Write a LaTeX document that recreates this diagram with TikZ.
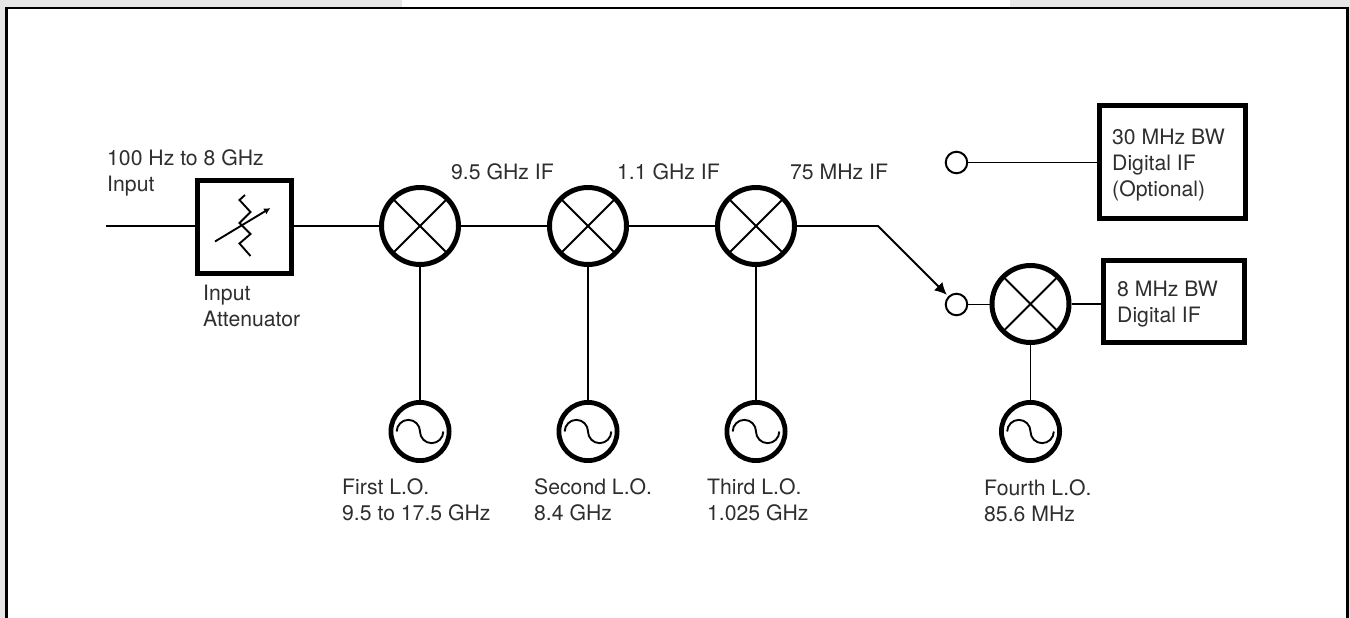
\documentclass[tikz,border=0pt]{standalone}
\usepackage{fontspec}
\setmainfont{TeX Gyre Heros}
\usetikzlibrary{arrows.meta}
\definecolor{pagegray}{HTML}{E6E6E6}
\definecolor{inkgray}{HTML}{2E2E2E}
\tikzset{
  wire/.style={line width=1.9},
  framed/.style={draw=black,line width=2.8},
  lbl/.style={inner sep=0,anchor=base west,align=left,text=inkgray,font=\fontsize{21.2}{26}\selectfont},
  thickbox/.style={draw=black,line width=5,inner sep=0,rectangle},
  mixer/.style={circle,draw=black,line width=5,minimum size=77,inner sep=0,
    path picture={\draw[line width=1.9]
      (path picture bounding box.north west)--(path picture bounding box.south east)
      (path picture bounding box.north east)--(path picture bounding box.south west);}},
  osc/.style={circle,draw=black,line width=4.8,minimum size=58.2,inner sep=0,
    path picture={\draw[line width=1.9,shift={(path picture bounding box.center)}]
      (-23.3,0) .. controls (-23.3,-6.4) and (-18,-11.65) .. (-11.65,-11.65)
      .. controls (-5.2,-11.65) and (0,-6.4) .. (0,0)
      .. controls (0,6.4) and (5.2,11.65) .. (11.65,11.65)
      .. controls (18,11.65) and (23.3,6.4) .. (23.3,0);}},
  tap/.style={circle,draw=black,line width=2,minimum size=21.5,inner sep=0,fill=white},
}
\begin{document}
\begin{tikzpicture}[x=1pt,y=-1pt]
\useasboundingbox (0,0) rectangle (1350,618);
% page background showing around the frame
\fill[pagegray] (0,0) rectangle (402,7);
\fill[pagegray] (1010,0) rectangle (1350,7);
\fill[pagegray] (0,0) rectangle (5,618);
\fill[pagegray] (1349,0) rectangle (1350,618);
\draw[framed] (6.4,618) -- (6.4,8) -- (1347.6,8) -- (1347.6,618);

% blocks
\node[thickbox,minimum width=94,minimum height=93] (att) at (244.5,227) {};
\node[mixer] (m1) at (420,226) {};
\node[mixer] (m2) at (588,226) {};
\node[mixer] (m3) at (756,226) {};
\node[mixer] (m4) at (1030.5,304) {};
\node[osc] (o1) at (420,431.5) {};
\node[osc] (o2) at (588,431.5) {};
\node[osc] (o3) at (756,431.5) {};
\node[osc] (o4) at (1030.5,431.5) {};
\node[tap] (s1) at (956.5,162.5) {};
\node[tap] (s2) at (956.5,304.5) {};
\node[thickbox,minimum width=146.6,minimum height=112.7] (b30) at (1172.5,162.2) {};
\node[thickbox,minimum width=141.3,minimum height=81.7] (b8) at (1174.2,301.7) {};

% attenuator symbol
\draw[line width=1.9] (245,195) -- (239.5,200) -- (250.5,212) -- (239.5,223) -- (250.5,234) -- (239.5,243.5) -- (250.5,256);
\draw[line width=1.9,-{Latex[length=6.5,width=6.5]}] (215,241.5) -- (270.5,208);

% connectors
\coordinate (in) at (106,226);
\coordinate (elbow) at (878,226);
\draw[wire] (in) -- (in -| att.west);
\draw[wire] (m1.west -| att.east) -- (m1.west);
\draw[wire] (m1) -- (m2);
\draw[wire] (m2) -- (m3);
\draw[wire] (m1.south) -- (o1.north);
\draw[wire] (m2.south) -- (o2.north);
\draw[wire] (m3.south) -- (o3.north);
\draw[wire] (m4.south) -- (o4.north);
\draw[wire] (s2.east) -- (s2.east -| m4.west);
\draw[wire] (m4.east) -- (m4.east -| b8.west);
\draw[wire] (s1.east) -- (s1.east -| b30.west);
\draw[wire,-{Latex[length=12,width=12]},shorten >=2] (m3.east) -- (elbow) -- (s2.135);

% labels
\node[lbl] (t1) at (107,191) {100 Hz to 8 GHz\\Input};
\node[lbl] (t2) at (203,326) {Input\\Attenuator};
\node[lbl] (t3) at (451,179) {9.5 GHz IF};
\node[lbl] (t4) at (617,179) {1.1 GHz IF};
\node[lbl] (t5) at (790,179) {75 MHz IF};
\node[lbl] (t6) at (342,520) {First L.O.\\9.5 to 17.5 GHz};
\node[lbl] (t7) at (534,520) {Second L.O.\\8.4 GHz};
\node[lbl] (t8) at (707,520) {Third L.O.\\1.025 GHz};
\node[lbl] (t9) at (984,521) {Fourth L.O.\\85.6 MHz};
\node[lbl] (t10) at (1112,196) {30 MHz BW\\Digital IF\\(Optional)};
\node[lbl] (t11) at (1117,322) {8 MHz BW\\Digital IF};
\end{tikzpicture}
\end{document}
